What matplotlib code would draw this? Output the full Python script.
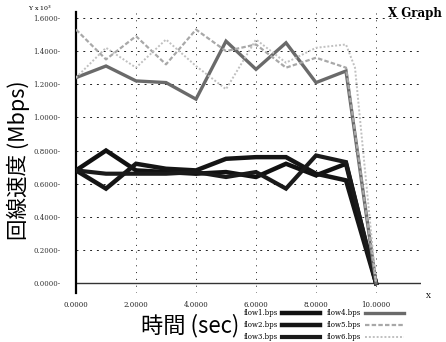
import matplotlib
matplotlib.use("Agg")
import matplotlib.pyplot as plt

time = [0, 1, 2, 3, 4, 5, 6, 7, 8, 9, 10]
flow1 = [0.68, 0.80, 0.68, 0.67, 0.66, 0.67, 0.64, 0.72, 0.65, 0.72, 0.0]
flow2 = [0.68, 0.57, 0.72, 0.69, 0.68, 0.75, 0.76, 0.76, 0.66, 0.62, 0.0]
flow3 = [0.68, 0.66, 0.66, 0.66, 0.67, 0.64, 0.67, 0.57, 0.77, 0.73, 0.0]
flow4 = [1.24, 1.31, 1.22, 1.21, 1.11, 1.46, 1.29, 1.45, 1.21, 1.28, 0.0]
flow5 = [1.53, 1.35, 1.49, 1.32, 1.53, 1.40, 1.44, 1.30, 1.36, 1.30, 0.0]
flow6_time = [0, 1, 2, 3, 4, 5, 6, 7, 8, 9, 9.3, 10]
flow6 = [1.24, 1.42, 1.30, 1.47, 1.31, 1.17, 1.47, 1.33, 1.42, 1.44, 1.30, 0.0]
labels = ["flow1.bps", "flow2.bps", "flow3.bps", "flow4.bps", "flow5.bps", "flow6.bps"]
yticks = [0.0, 0.2, 0.4, 0.6, 0.8, 1.0, 1.2, 1.4, 1.6]
xticks = [0, 2, 4, 6, 8, 10]

fig = plt.figure(figsize=(4.46, 3.42), dpi=100)
ax = fig.add_axes([76/446, 1-293/342, 345/446, 281/342])
ax.set_xlim(0, 11.5)
ax.set_ylim(-0.06, 1.636)

for s in ["top", "right", "bottom"]:
    ax.spines[s].set_visible(False)
ax.spines["left"].set_linewidth(1.6)

# grid
for yv in yticks[1:]:
    ax.axhline(yv, color="#222222", lw=0.7, ls=(0, (2, 5)), zorder=1)
for xv in xticks[1:]:
    ax.axvline(xv, color="#222222", lw=0.7, ls=(0, (1, 6)), zorder=1)
ax.axhline(0, color="#333333", lw=1.0, zorder=2)

styles = [
    dict(color="#111111", lw=3.2),
    dict(color="#151515", lw=3.2),
    dict(color="#1a1a1a", lw=3.0),
    dict(color="#6a6a6a", lw=2.4),
    dict(color="#a8a8a8", lw=1.6, ls=(0, (2, 1))),
    dict(color="#c0c0c0", lw=1.4, ls=(0, (1, 1))),
]
series = [(time, flow1), (time, flow2), (time, flow3), (time, flow4), (time, flow5), (flow6_time, flow6)]
handles = []
for (tt, ser), st, lab in zip(series, styles, labels):
    h, = ax.plot(tt, ser, label=lab, zorder=3, solid_joinstyle="miter", **st)
    handles.append(h)

ax.set_yticks(yticks)
ax.set_yticklabels([f"{v:.4f}-" for v in yticks], fontsize=5, family="DejaVu Serif", color="#333333")
ax.set_xticks(xticks)
ax.set_xticklabels([f"{v:.4f}" for v in xticks], fontsize=5, family="DejaVu Serif", color="#222222")
ax.tick_params(axis="y", length=0, pad=11)
ax.tick_params(axis="x", length=0, pad=6)

leg = ax.legend(handles=handles, ncol=2, markerfirst=False, frameon=False,
                handlelength=5.5, handletextpad=0.6, columnspacing=1.0,
                labelspacing=0.55, borderpad=0, loc="upper left",
                bbox_to_anchor=(240/446, 1-306/342), bbox_transform=fig.transFigure,
                prop={"family": "DejaVu Serif", "size": 5})

cjk = ["Noto Sans CJK JP", "DejaVu Sans"]
fig.text(18/446, 1-160/342, "回線速度 (Mbps)", rotation=90, fontsize=15.5, family=cjk,
         ha="center", va="center")
fig.text(190/446, 1-326/342, "時間 (sec)", fontsize=16, family=cjk, ha="center", va="center")
fig.text(28/446, 1-8/342, r"Y x 10$^3$", fontsize=4.5, family="DejaVu Serif", ha="left", va="center")
fig.text(388/446, 1-13/342, "X Graph", fontsize=8.5, family="DejaVu Serif", weight="bold",
         ha="left", va="center")
fig.text(428/446, 1-296/342, "X", fontsize=5, family="DejaVu Serif", ha="center", va="center")

fig.savefig("out.png", dpi=100)
